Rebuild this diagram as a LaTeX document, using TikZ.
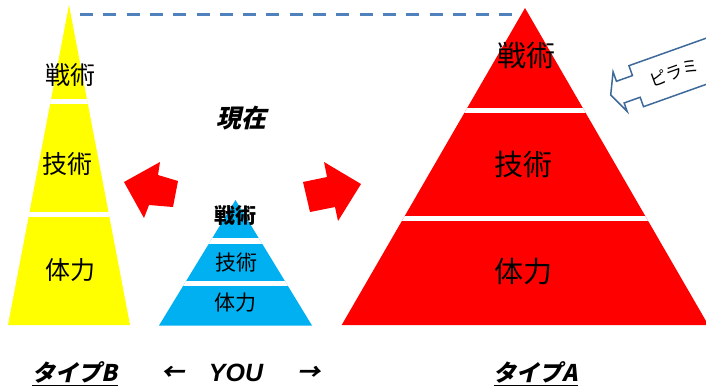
\documentclass[tikz,border=0pt]{standalone}
\usepackage{fontspec}
\setmainfont{Noto Sans CJK JP}
\newfontfamily\jpit[FakeSlant=0.22]{Noto Sans CJK JP}
\newfontfamily\latfont{Liberation Sans}
\definecolor{pyrYellow}{HTML}{FFFF00}
\definecolor{pyrRed}{HTML}{FF0000}
\definecolor{pyrBlue}{HTML}{00B0F0}
\definecolor{dline}{HTML}{4F81BD}
\definecolor{cline}{HTML}{3E6A9A}
\tikzset{
  gap/.style={fill=white},
  lblY/.style={inner sep=0pt, font=\fontsize{25}{25}\selectfont},
  lblB/.style={inner sep=0pt, font=\fontsize{21}{21}\selectfont},
  lblR/.style={inner sep=0pt, font=\fontsize{29}{29}\selectfont},
  bigarrow/.style={fill=pyrRed},
  bottomtxt/.style={inner sep=0pt, font=\fontsize{23}{23}\selectfont\jpit\bfseries},
  ulstyle/.style={line width=1.6pt},
}
\begin{document}
\begin{tikzpicture}[x=1pt,y=-1pt]
\useasboundingbox (0,0) rectangle (706,389);
\clip (0,0) rectangle (706,389);
\fill[white] (0,0) rectangle (706,389);

% dashed guide line
\coordinate (dl) at (80,14);
\coordinate (dr) at (517,14);
\draw[dline, line width=3pt, dash pattern=on 13pt off 10.3pt] (dl) -- (dr);

% yellow pyramid (type B)
\begin{scope}
  \fill[pyrYellow] (69,5) -- (8,325) -- (130,325) -- cycle;
  \clip (69,5) -- (8,325) -- (130,325) -- cycle;
  \fill[gap] (0,99) rectangle (140,104);
  \fill[gap] (0,212) rectangle (140,217);
\end{scope}
\node[lblY] (y1) at (70,75) {戦術};
\node[lblY] (y2) at (67,164) {技術};
\node[lblY] (y3) at (70,270) {体力};

% blue pyramid (YOU)
\begin{scope}
  \fill[pyrBlue] (235.5,200) -- (159,325.5) -- (312,325.5) -- cycle;
  \clip (235.5,200) -- (159,325.5) -- (312,325.5) -- cycle;
  \fill[gap] (150,238) rectangle (320,243.5);
  \fill[gap] (150,281) rectangle (320,286);
\end{scope}
\node[lblB, font=\fontsize{21}{21}\selectfont\bfseries] (b1) at (235,216) {戦術};
\node[lblB] (b2) at (236,263) {技術};
\node[lblB] (b3) at (235,303) {体力};

% red pyramid (type A)
\begin{scope}
  \fill[pyrRed] (525,8) -- (341.7,325) -- (708.3,325) -- cycle;
  \clip (525,8) -- (341.7,325) -- (708.3,325) -- cycle;
  \fill[gap] (330,108) rectangle (720,113);
  \fill[gap] (330,216) rectangle (720,221);
\end{scope}
\node[lblR] (r1) at (526,55) {戦術};
\node[lblR] (r2) at (523.5,164) {技術};
\node[lblR] (r3) at (523.5,271.5) {体力};

% red block arrows
\fill[bigarrow] (124,182) -- (160,162) -- (158,175) -- (178,181) -- (173,207) -- (149,205) -- (144,218) -- cycle;
\fill[bigarrow] (303,182) -- (327,177) -- (324,162) -- (361,184) -- (338,221) -- (335,207) -- (310,212) -- cycle;

% now
\node[inner sep=0pt, font=\fontsize{25}{25}\selectfont\jpit\bfseries] (now) at (241,118) {現在};

% callout arrow
\begin{scope}[shift={(610.7,95)}, rotate=19.6]
  \filldraw[fill=white, draw=cline, line width=1.5pt, line join=miter]
    (0,0) -- (10,-21) -- (10,-11) -- (27,-11) -- (27,-21.5) -- (220,-21.5)
    -- (220,22) -- (27,22) -- (27,12) -- (10,12) -- (10,21) -- cycle;
  \node[inner sep=0pt, anchor=west, rotate=19.6, font=\fontsize{17}{17}\selectfont] (call) at (42,0) {ピラミ};
\end{scope}

% bottom labels
\node[bottomtxt] (tB) at (75,372) {タイプB};
\node[bottomtxt] (la) at (173,373) {←};
\node[inner sep=0pt, font=\fontsize{25}{25}\selectfont\latfont\bfseries\itshape] (you) at (236,373) {YOU};
\node[bottomtxt] (ra) at (309,373) {→};
\node[bottomtxt] (tA) at (536,372) {タイプA};
\draw[ulstyle] ([yshift=-2.5pt]tB.south west) -- ([yshift=-2.5pt]tB.south east);
\draw[ulstyle] ([yshift=-2.5pt]tA.south west) -- ([yshift=-2.5pt]tA.south east);
\end{tikzpicture}
\end{document}
